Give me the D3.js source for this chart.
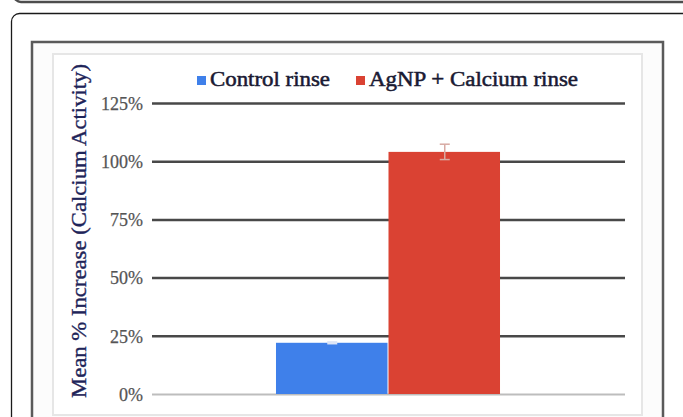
<!DOCTYPE html>
<html>
<head>
<meta charset="utf-8">
<script src="https://cdn.jsdelivr.net/npm/d3@7"></script>
<style>
  html, body { margin: 0; padding: 0; background: #ffffff; }
  svg { display: block; }
</style>
</head>
<body>
<svg id="chart" width="683" height="417"></svg>
<script>
// ---- data ----
const categories = [""];
const seriesNames = ["Control rinse", "AgNP + Calcium rinse"];
const seriesValues = [22, 104];      // mean % increase
const seriesErrors = [0.4, 3.3];     // error bar half-lengths (%)
const seriesColors = ["#3f80ea", "#da4233"];
const tickValues = [0, 25, 50, 75, 100, 125];
const tickLabels = ["0%", "25%", "50%", "75%", "100%", "125%"];
const yAxisTitle = "Mean % Increase (Calcium Activity)";

const svg = d3.select("#chart");
const serif = "'Liberation Serif', 'Times New Roman', serif";

// ---- decorative page frames ----
svg.append("rect").attr("x", 14).attr("y", -30).attr("width", 700).attr("height", 32)
  .attr("rx", 7).attr("fill", "none").attr("stroke", "#4d4d4d").attr("stroke-width", 2.5);
svg.append("rect").attr("x", 11.5).attr("y", 13.5).attr("width", 700).attr("height", 440)
  .attr("rx", 8).attr("fill", "#ffffff").attr("stroke", "#1a1a1a").attr("stroke-width", 1.3);
// image frame
svg.append("rect").attr("x", 32).attr("y", 42).attr("width", 631).attr("height", 420)
  .attr("fill", "#fcfcfc").attr("stroke", "#5a5a5a").attr("stroke-width", 2.5);
svg.append("rect").attr("x", 53).attr("y", 54).attr("width", 589).attr("height", 361)
  .attr("fill", "#ffffff").attr("stroke", "#e6e6e6").attr("stroke-width", 2);

// ---- scales ----
const plot = { left: 152, right: 625, top: 103, bottom: 394 };
const x0 = d3.scaleBand().domain(categories).range([plot.left, plot.right])
  .paddingInner(0).paddingOuter(0.551);
const x1 = d3.scaleBand().domain(seriesNames).range([0, x0.bandwidth()]).padding(0);
const y = d3.scaleLinear().domain([0, 125]).range([plot.bottom, plot.top]);

// ---- gridlines via axis ----
const grid = svg.append("g").attr("transform", `translate(${plot.left},0)`)
  .call(d3.axisRight(y).tickValues(tickValues).tickSize(plot.right - plot.left).tickFormat(""));
grid.select(".domain").remove();
grid.selectAll(".tick line")
  .attr("stroke", d => d === 0 ? "#bdbdbd" : "#484848")
  .attr("stroke-width", d => d === 0 ? 2 : 2.5);

// ---- tick labels via axis ----
const yAxis = svg.append("g").attr("transform", `translate(${plot.left - 9},0)`)
  .call(d3.axisLeft(y).tickValues(tickValues).tickSize(0)
    .tickFormat((d, i) => tickLabels[i]));
yAxis.select(".domain").remove();
yAxis.selectAll(".tick text")
  .attr("font-family", serif).attr("font-size", 18).attr("fill", "#555555")
  .attr("stroke", "#555555").attr("stroke-width", 0.25)
  .attr("dy", "0.35em").attr("x", 0);

// ---- bars ----
const data = seriesNames.map((s, i) => ({ series: s, cat: categories[0], value: seriesValues[i], err: seriesErrors[i], color: seriesColors[i] }));
const barG = svg.append("g");
barG.selectAll("rect").data(data).join("rect")
  .attr("x", d => x0(d.cat) + x1(d.series))
  .attr("y", d => y(d.value))
  .attr("width", x1.bandwidth() - 1)
  .attr("height", d => y(0) - y(d.value))
  .attr("fill", d => d.color);

// ---- error bars ----
const eb = svg.append("g").selectAll("g").data(data).join("g");
const cx = d => x0(d.cat) + x1(d.series) + x1.bandwidth() / 2;
eb.append("line").attr("x1", cx).attr("x2", cx)
  .attr("y1", d => y(d.value + d.err)).attr("y2", d => y(d.value - d.err))
  .attr("stroke", d => d.value > 50 ? "#d8aaa3" : "#dfe6f6").attr("stroke-width", 1.5);
[1, -1].forEach(sgn => {
  eb.append("line").attr("x1", d => cx(d) - 5).attr("x2", d => cx(d) + 5)
    .attr("y1", d => y(d.value + sgn * d.err)).attr("y2", d => y(d.value + sgn * d.err))
    .attr("stroke", d => d.value > 50 ? "#d8aaa3" : "#dfe6f6").attr("stroke-width", 1.5);
});

// ---- y axis title ----
svg.append("text")
  .attr("transform", `translate(86,231) rotate(-90)`)
  .attr("text-anchor", "middle")
  .attr("font-family", serif).attr("font-size", 20)
  .attr("fill", "#1e2459").attr("stroke", "#1e2459").attr("stroke-width", 0.35)
  .attr("textLength", 334).attr("lengthAdjust", "spacingAndGlyphs")
  .text(yAxisTitle);

// ---- legend ----
const legendX = [197, 356];
const legendTextLen = [120, 209];
const lg = svg.append("g").selectAll("g").data(data).join("g")
  .attr("transform", (d, i) => `translate(${legendX[i]},76)`);
lg.append("rect").attr("width", 9).attr("height", 9).attr("fill", d => d.color);
lg.append("text").attr("x", 13).attr("y", 10)
  .attr("font-family", serif).attr("font-size", 20)
  .attr("fill", "#1a1a33").attr("stroke", "#1a1a33").attr("stroke-width", 0.5)
  .attr("textLength", (d, i) => legendTextLen[i]).attr("lengthAdjust", "spacingAndGlyphs")
  .text(d => d.series);
</script>
</body>
</html>
